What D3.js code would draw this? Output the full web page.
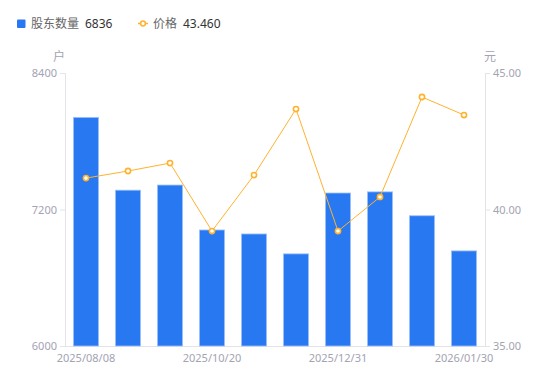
<!DOCTYPE html>
<html>
<head>
<meta charset="utf-8">
<script src="https://cdn.jsdelivr.net/npm/d3@7"></script>
<style>
  body { margin: 0; background: #fff; font-family: "Noto Sans CJK SC", "Noto Sans", sans-serif; }
</style>
</head>
<body>
<div id="vis"></div>
<script>
// data
const dates = ['2025/08/08', '2025/08/31', '2025/09/30', '2025/10/20', '2025/10/31',
               '2025/11/30', '2025/12/31', '2026/01/10', '2026/01/20', '2026/01/30'];
const holders = [8010, 7370, 7415, 7020, 6985, 6810, 7345, 7355, 7145, 6836];
const prices = [41.15, 41.41, 41.70, 39.21, 41.26, 43.68, 39.21, 40.46, 44.12, 43.46];
const shownDates = ['2025/08/08', '2025/10/20', '2025/12/31', '2026/01/30'];
const leftTicks = [6000, 7200, 8400];
const rightTicks = [35, 40, 45];

const width = 550, height = 381;
const margin = { top: 73, right: 65, bottom: 35, left: 65 };
const blue = '#2878f2';
const orange = '#ffb22e';
const axisColor = '#e3e3e8';
const labelColor = '#a3a3b2';
const numFont = '"Noto Sans", "Liberation Sans", sans-serif';

const svg = d3.select('#vis')
    .append('svg')
    .attr('width', width)
    .attr('height', height);

const x = d3.scaleBand()
    .domain(dates)
    .range([margin.left, width - margin.right])
    .paddingInner(0.4)
    .paddingOuter(0.2);

const yLeft = d3.scaleLinear()
    .domain([6000, 8400])
    .range([height - margin.bottom, margin.top]);

const yRight = d3.scaleLinear()
    .domain([35, 45])
    .range([height - margin.bottom, margin.top]);

// left axis
const gl = svg.append('g')
    .attr('transform', `translate(${margin.left},0)`)
    .call(d3.axisLeft(yLeft).tickValues(leftTicks).tickSize(5).tickPadding(3)
        .tickFormat(d3.format('d')));
// right axis
const gr = svg.append('g')
    .attr('transform', `translate(${width - margin.right},0)`)
    .call(d3.axisRight(yRight).tickValues(rightTicks).tickSize(5).tickPadding(3)
        .tickFormat(d3.format('.2f')));

[gl, gr].forEach(g => {
    g.select('.domain').attr('stroke', axisColor);
    g.selectAll('.tick line').attr('stroke', axisColor);
    g.selectAll('.tick text')
        .attr('fill', labelColor)
        .style('font-size', '11px')
        .style('font-family', numFont);
});

// bottom axis line
svg.append('line')
    .attr('x1', margin.left)
    .attr('x2', width - margin.right)
    .attr('y1', height - margin.bottom + 0.5)
    .attr('y2', height - margin.bottom + 0.5)
    .attr('stroke', axisColor);

// x labels
svg.append('g')
    .selectAll('text')
    .data(shownDates)
    .join('text')
    .attr('x', d => x(d) + x.bandwidth() / 2)
    .attr('y', height - margin.bottom + 16)
    .attr('text-anchor', 'middle')
    .attr('fill', labelColor)
    .style('font-size', '11px')
    .style('font-family', numFont)
    .text(d => d);

// unit labels
svg.append('text')
    .attr('x', 59).attr('y', 61)
    .attr('text-anchor', 'middle')
    .attr('fill', labelColor)
    .style('font-size', '12px')
    .text('户');
svg.append('text')
    .attr('x', 490).attr('y', 61)
    .attr('text-anchor', 'middle')
    .attr('fill', labelColor)
    .style('font-size', '12px')
    .text('元');

// bars
svg.append('g')
    .selectAll('rect')
    .data(holders)
    .join('rect')
    .attr('x', (d, i) => x(dates[i]))
    .attr('y', d => yLeft(d))
    .attr('width', x.bandwidth())
    .attr('height', d => yLeft(6000) - yLeft(d))
    .attr('fill', blue)
    .attr('stroke', '#9fc3fa')
    .attr('stroke-width', 0.8);

// price line
const line = d3.line()
    .x((d, i) => x(dates[i]) + x.bandwidth() / 2)
    .y(d => yRight(d));

svg.append('path')
    .datum(prices)
    .attr('fill', 'none')
    .attr('stroke', orange)
    .attr('stroke-width', 1)
    .attr('d', line);

svg.append('g')
    .selectAll('circle')
    .data(prices)
    .join('circle')
    .attr('cx', (d, i) => x(dates[i]) + x.bandwidth() / 2)
    .attr('cy', d => yRight(d))
    .attr('r', 2.6)
    .attr('fill', '#fff')
    .attr('stroke', orange)
    .attr('stroke-width', 1.6);

// legend
const legend = svg.append('g').style('font-size', '12px');
legend.append('rect')
    .attr('x', 17).attr('y', 19.5)
    .attr('width', 8.5).attr('height', 8.5)
    .attr('rx', 1)
    .attr('fill', blue);
legend.append('text')
    .attr('x', 31).attr('y', 28)
    .attr('fill', '#666')
    .text('股东数量');
legend.append('text')
    .attr('x', 85).attr('y', 28)
    .attr('fill', '#333')
    .style('font-family', numFont)
    .text(d3.format('d')(holders[holders.length - 1]));

legend.append('line')
    .attr('x1', 138).attr('x2', 148)
    .attr('y1', 23.5).attr('y2', 23.5)
    .attr('stroke', orange)
    .attr('stroke-width', 1.5);
legend.append('circle')
    .attr('cx', 143).attr('cy', 23.5)
    .attr('r', 2.4)
    .attr('fill', '#fff')
    .attr('stroke', orange)
    .attr('stroke-width', 1.5);
legend.append('text')
    .attr('x', 153).attr('y', 28)
    .attr('fill', '#666')
    .text('价格');
legend.append('text')
    .attr('x', 183).attr('y', 28)
    .attr('fill', '#333')
    .style('font-family', numFont)
    .text(d3.format('.3f')(prices[prices.length - 1]));
</script>
</body>
</html>
